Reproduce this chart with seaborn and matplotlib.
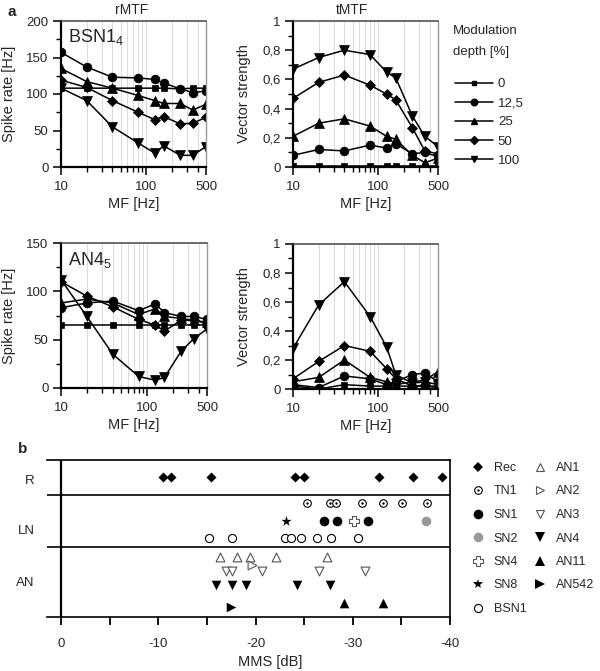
import numpy as np
import matplotlib
matplotlib.use('Agg')
import matplotlib.pyplot as plt
import seaborn as sns
from matplotlib.lines import Line2D

# ---- panel a: modulation transfer functions ----
mf = [10, 20, 40, 80, 125, 160, 250, 350, 500]
depths = ['0', '12,5', '25', '50', '100']

# rows follow depths
bsn_rate = [
    [108, 108, 108, 108, 108, 108, 107, 108, 108],
    [157, 137, 123, 122, 120, 115, 107, 102, 104],
    [135, 117, 108, 98, 91, 87, 87, 78, 86],
    [119, 109, 91, 75, 65, 69, 59, 60, 68],
    [108, 91, 55, 33, 19, 29, 16, 16, 28],
]
bsn_vs = [
    [0.01, 0.01, 0.01, 0.01, 0.01, 0.01, 0.01, 0.01, 0.01],
    [0.08, 0.12, 0.11, 0.15, 0.13, 0.16, 0.09, 0.10, 0.07],
    [0.21, 0.30, 0.33, 0.28, 0.21, 0.19, 0.08, 0.03, 0.06],
    [0.47, 0.58, 0.63, 0.56, 0.50, 0.46, 0.27, 0.11, 0.09],
    [0.67, 0.75, 0.80, 0.77, 0.65, 0.61, 0.35, 0.21, 0.14],
]
an_rate = [
    [65, 65, 65, 65, 65, 65, 65, 65, 65],
    [83, 88, 90, 80, 87, 78, 74, 74, 71],
    [88, 92, 88, 76, 82, 74, 72, 70, 68],
    [110, 95, 84, 71, 65, 59, 70, 70, 67],
    [112, 74, 35, 12, 8, 11, 38, 51, 61],
]
an_vs = [
    [0.02, 0.00, 0.03, 0.02, 0.02, 0.02, 0.02, 0.02, 0.02],
    [0.03, 0.01, 0.09, 0.07, 0.03, 0.05, 0.10, 0.11, 0.05],
    [0.05, 0.08, 0.20, 0.08, 0.05, 0.03, 0.05, 0.06, 0.12],
    [0.07, 0.19, 0.30, 0.26, 0.14, 0.07, 0.02, 0.02, 0.01],
    [0.28, 0.58, 0.74, 0.50, 0.29, 0.10, 0.04, 0.05, 0.03],
]

# ---- panel b: MMS per neuron type ----
rec_mms = [-10.5, -11.3, -15.4, -24.1, -25.0, -32.7, -36.2, -39.2]
tn1_mms = [-25.3, -27.7, -28.3, -31.0, -33.1, -35.1, -37.6]
sn1_mms = [-27.0, -28.4, -31.6]
sn2_mms = [-37.5]
sn4_mms = [-30.1]
sn8_mms = [-23.1]
bsn1_mms = [-15.2, -17.6, -23.0, -23.6, -24.7, -26.3, -27.8, -30.5]
an1_mms = [-16.3, -18.1, -19.4, -22.1, -27.4]
an2_mms = [-19.6]
an3_mms = [-17.0, -17.6, -20.7, -26.5, -31.3]
an4_mms = [-15.9, -17.6, -19.0, -24.3, -27.7]
an11_mms = [-29.1, -33.1]
an542_mms = [-17.5]
groups = ['R', 'LN', 'AN']

sns.set_theme(style='ticks')
plt.rcParams['font.family'] = ['Liberation Sans', 'DejaVu Sans']
plt.rcParams['mathtext.default'] = 'regular'
plt.rcParams['axes.unicode_minus'] = False
plt.rcParams['font.size'] = 9

W, H = 600, 671
fig = plt.figure(figsize=(6, 6.71), dpi=100)


def px_axes(x0, y0, x1, y1):
    return fig.add_axes([x0 / W, 1 - y1 / H, (x1 - x0) / W, (y1 - y0) / H])


markers = ['s', 'o', '^', 'D', 'v']
msizes = [4.2, 6.3, 6.5, 5.0, 6.5]


def mtf_panel(ax, values, ymax, major, minor, labels, ylabel):
    for vals, mk, ms in zip(values, markers, msizes):
        sns.lineplot(x=mf, y=vals, marker=mk, markersize=ms, color='black', lw=1.1,
                     markeredgecolor='black', markeredgewidth=0.5, ax=ax)
    ax.set_xscale('log')
    ax.set_xlim(10, 500)
    ax.set_ylim(0, ymax)
    ax.set_xticks([10, 100, 500])
    ax.set_xticklabels(['10', '100', '500'])
    minor_x = [m * d for d in (10, 100) for m in range(2, 10) if m * d < 500]
    ax.set_xticks(minor_x, minor=True)
    ax.set_yticks(major)
    ax.set_yticklabels(labels)
    ax.set_yticks(minor, minor=True)
    ax.grid(True, axis='x', which='both', color='#d4d4d4', lw=0.6)
    ax.tick_params(which='major', length=6, width=1.1, pad=3, labelsize=9.5, color='black')
    ax.tick_params(axis='x', which='major', pad=4)
    ax.tick_params(which='minor', length=3.5, width=1, color='black')
    for s in ('left', 'bottom'):
        ax.spines[s].set_linewidth(1.6)
        ax.spines[s].set_color('black')
    ax.spines['top'].set_color('#444444')
    ax.spines['top'].set_linewidth(1.1)
    ax.spines['right'].set_color('#999999')
    ax.spines['right'].set_linewidth(1.0)
    ax.set_xlabel('MF [Hz]', fontsize=10.5, labelpad=3)
    ax.set_ylabel(ylabel, fontsize=10.5)
    ax.set_facecolor('white')


rate_major = [0, 50, 100, 150, 200]
ax1 = px_axes(61, 21, 206, 167)
mtf_panel(ax1, bsn_rate, 200, rate_major, [25, 75, 125, 175],
          [str(v) for v in rate_major], 'Spike rate [Hz]')
ax1.yaxis.set_label_coords(-0.31, 0.5)
ax1.text(0.05, 0.96, 'BSN1$_4$', transform=ax1.transAxes, fontsize=13, va='top')

vs_major = [0, 0.2, 0.4, 0.6, 0.8, 1.0]
vs_labels = ['0', '0,2', '0,4', '0,6', '0,8', '1']
vs_minor = [0.1, 0.3, 0.5, 0.7, 0.9]
ax2 = px_axes(293, 21, 438, 167)
mtf_panel(ax2, bsn_vs, 1.0, vs_major, vs_minor, vs_labels, 'Vector strength')
ax2.yaxis.set_label_coords(-0.29, 0.5)

ax3 = px_axes(61, 243, 207, 388)
mtf_panel(ax3, an_rate, 150, [0, 50, 100, 150], [25, 75, 125],
          ['0', '50', '100', '150'], 'Spike rate [Hz]')
ax3.yaxis.set_label_coords(-0.31, 0.5)
ax3.text(0.05, 0.95, 'AN4$_5$', transform=ax3.transAxes, fontsize=13, va='top')

ax4 = px_axes(293, 244, 438, 389)
mtf_panel(ax4, an_vs, 1.0, vs_major, vs_minor, vs_labels, 'Vector strength')
ax4.yaxis.set_label_coords(-0.29, 0.5)

fig.text(132 / W, 1 - 10 / H, 'rMTF', ha='center', va='center', fontsize=10)
fig.text(352 / W, 1 - 10 / H, 'tMTF', ha='center', va='center', fontsize=10)
fig.text(8 / W, 1 - 12 / H, 'a', ha='left', va='center', fontsize=11, fontweight='bold')
fig.text(18 / W, 1 - 449 / H, 'b', ha='left', va='center', fontsize=11, fontweight='bold')

# modulation depth legend
fig.text(453 / W, 1 - 31 / H, 'Modulation', ha='left', va='center', fontsize=9.5)
fig.text(453 / W, 1 - 52 / H, 'depth [%]', ha='left', va='center', fontsize=9.5)
depth_handles = [Line2D([], [], color='black', lw=1.1, marker=mk, markersize=ms * 0.75)
                 for mk, ms in zip(markers, msizes)]
fig.legend(depth_handles, depths, loc='upper left', bbox_to_anchor=(455 / W, 1 - 78 / H),
           frameon=False, fontsize=9.5, handlelength=2.9, handletextpad=0.35,
           labelspacing=0.52, borderpad=0, borderaxespad=0)

# ---- panel b ----
axb = px_axes(47, 460, 450, 617)
axb.set_xlim(1.44, -40)
axb.set_ylim(0, 15.7)
lane = {'Rec': 14.0, 'TN1': 11.4, 'SN': 9.6, 'BSN1': 7.9, 'AN1': 6.0, 'AN2': 5.2,
        'AN3': 4.6, 'AN4': 3.2, 'AN11': 1.4, 'AN542': 1.0}

open_kw = dict(color='white', edgecolor='black', linewidth=0.8)
grey_open = dict(color='white', edgecolor='#555555', linewidth=0.8)
specs = [
    ('Rec', rec_mms, lane['Rec'], 'D', 26, dict(color='black', edgecolor='black', linewidth=0)),
    ('TN1', tn1_mms, lane['TN1'], 'o', 30, open_kw),
    ('SN1', sn1_mms, lane['SN'], 'o', 48, dict(color='black', edgecolor='black', linewidth=0)),
    ('SN2', sn2_mms, lane['SN'], 'o', 48, dict(color='#999999', edgecolor='#999999', linewidth=0)),
    ('SN4', sn4_mms, lane['SN'], 'P', 45, grey_open),
    ('SN8', sn8_mms, lane['SN'], '*', 60, dict(color='black', edgecolor='black', linewidth=0)),
    ('BSN1', bsn1_mms, lane['BSN1'], 'o', 34, open_kw),
    ('AN1', an1_mms, lane['AN1'], '^', 40, grey_open),
    ('AN2', an2_mms, lane['AN2'], '>', 40, grey_open),
    ('AN3', an3_mms, lane['AN3'], 'v', 40, grey_open),
    ('AN4', an4_mms, lane['AN4'], 'v', 48, dict(color='black', edgecolor='black', linewidth=0)),
    ('AN11', an11_mms, lane['AN11'], '^', 48, dict(color='black', edgecolor='black', linewidth=0)),
    ('AN542', an542_mms, lane['AN542'], '>', 48, dict(color='black', edgecolor='black', linewidth=0)),
]
for name, xs, yl, mk, s, kw in specs:
    sns.scatterplot(x=xs, y=[yl] * len(xs), marker=mk, s=s, ax=axb, zorder=3, **kw)
    if name == 'TN1':
        sns.scatterplot(x=xs, y=[yl] * len(xs), marker='o', s=3, color='black',
                        linewidth=0, ax=axb, zorder=4)

axb.axhline(12.2, color='black', lw=1.2)
axb.axhline(7.0, color='black', lw=1.2)
axb.axvline(0, color='black', lw=1.6)
axb.spines['left'].set_visible(False)
for s in ('top', 'right', 'bottom'):
    axb.spines[s].set_color('black')
    axb.spines[s].set_linewidth(1.2)
xt = np.arange(0, -45, -5)
axb.set_xticks(xt)
axb.set_xticklabels([str(v) if v % 10 == 0 else '' for v in xt])
axb.tick_params(axis='x', length=6, width=1.3, pad=9, labelsize=9.5, color='black')
axb.set_yticks([13.8, 8.8, 3.6])
axb.set_yticklabels(groups)
axb.tick_params(axis='y', length=0, pad=9, labelsize=9.5)
axb.set_xlabel('MMS [dB]', fontsize=10.5)
axb.xaxis.set_label_coords(0.553, -0.24)
axb.set_facecolor('white')

b_handles = []
for name, xs, yl, mk, s, kw in specs:
    ms = np.sqrt(s)
    h = Line2D([], [], lw=0, marker=mk, markersize=ms, markerfacecolor=kw['color'],
               markeredgecolor=kw['edgecolor'], markeredgewidth=kw['linewidth'])
    if name == 'TN1':
        h = (h, Line2D([], [], lw=0, marker='o', markersize=1.7, markerfacecolor='black',
                       markeredgewidth=0))
    b_handles.append(h)
fig.legend(b_handles, [sp[0] for sp in specs], ncol=2, loc='upper left',
           bbox_to_anchor=(472 / W, 1 - 462 / H), frameon=False, fontsize=9,
           handlelength=1.0, handletextpad=0.75, labelspacing=0.92, columnspacing=0.6,
           borderpad=0, borderaxespad=0)

fig.savefig('out.png', dpi=100, facecolor='white')
